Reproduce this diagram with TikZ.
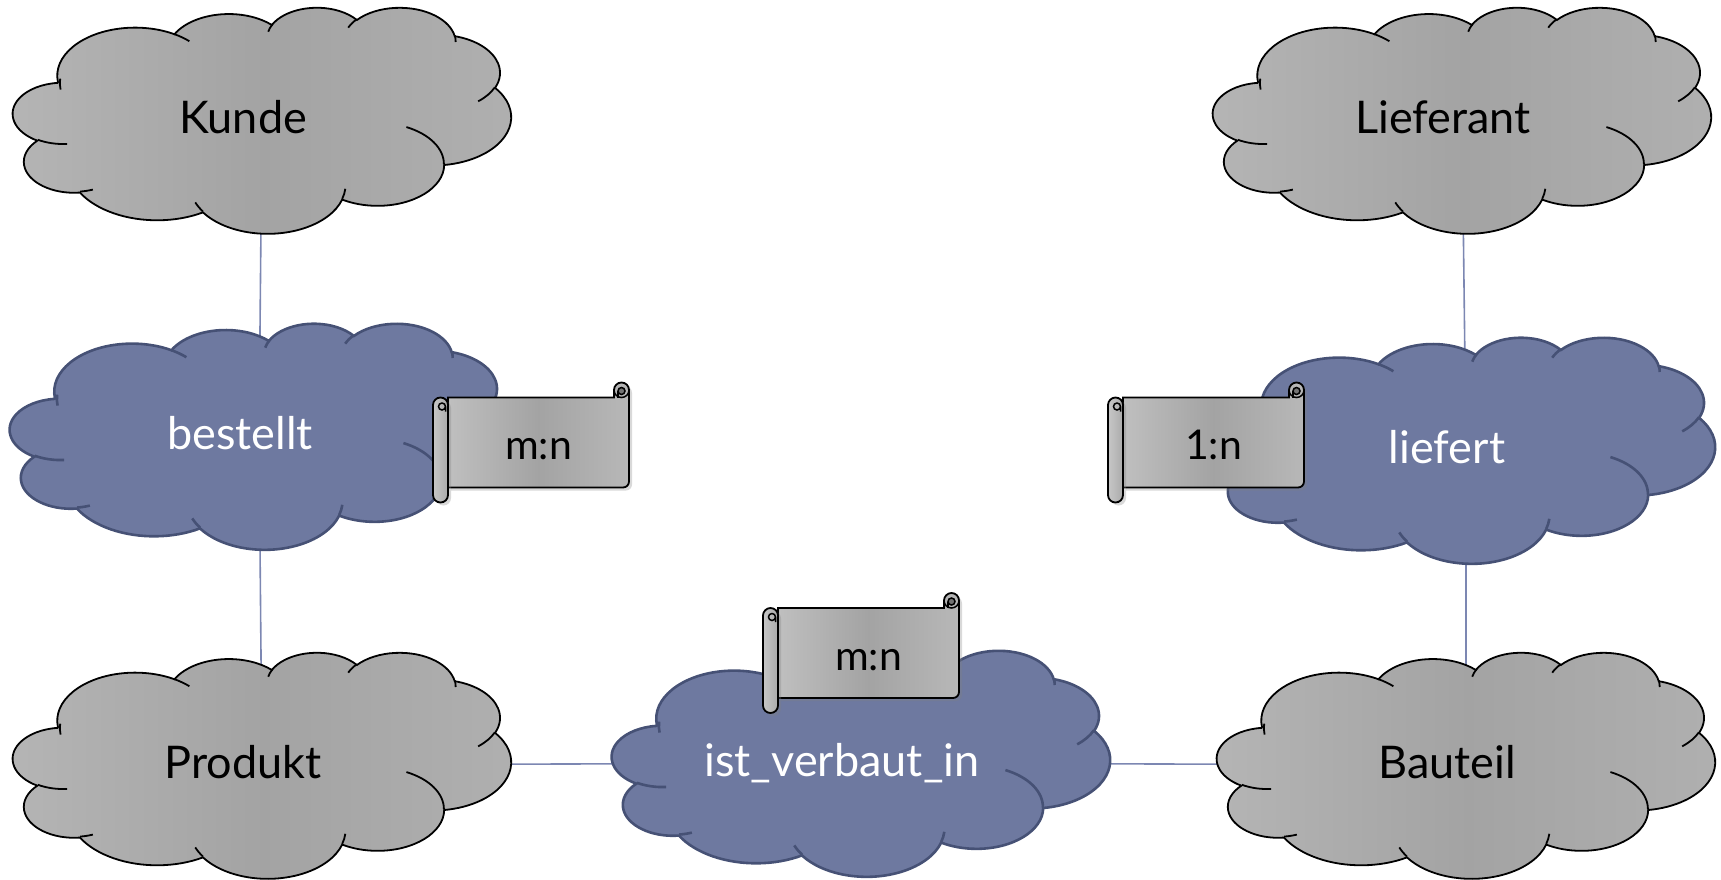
\documentclass[tikz,border=0pt]{standalone}
\usepackage{fontspec}
\setmainfont{Lato}
\usepackage{tikz}
\usetikzlibrary{backgrounds, shadows}
\pgfdeclarelayer{links}
\pgfsetlayers{links,background,main}
\definecolor{relblue}{RGB}{110,121,160}
\definecolor{relline}{RGB}{70,81,117}
\definecolor{linkblue}{RGB}{124,135,178}

% elliptic arc as given in the slide file (visual angles, y down)
\newcommand\ooarc[4]{%
  \pgfextra{%
    \pgfmathsetmacro\arcst{atan2(#1*sin(#3),#2*cos(#3))}%
    \pgfmathsetmacro\arcen{atan2(#1*sin(#3+#4),#2*cos(#3+#4))}%
    \pgfmathsetmacro\arcsw{Mod(\arcen-\arcst,360)}}%
  arc[start angle=\arcst, delta angle=\arcsw, x radius=#1pt, y radius=#2pt]}

% cloud outline in a 432 x 432 box
\newcommand\cloudpath[1]{%
  \begin{scope}[xscale=1.15278, yscale=-0.523148, shift={(-216pt,-216pt)}]
    \path[#1 fill] (39pt,143.7pt)
      \ooarc{67.53}{91.90}{-190.4875}{123.7805}
      \ooarc{53.33}{72.67}{-144.1024}{89.9452}
      \ooarc{43.65}{59.45}{-145.8079}{99.7230}
      \ooarc{48.57}{65.95}{-130.9861}{117.2417}
      \ooarc{53.33}{72.73}{-78.7089}{109.0269}
      \ooarc{67.75}{92.20}{-46.2673}{130.2690}
      \ooarc{57.85}{78.67}{0.6250}{114.0333}
      \ooarc{67.52}{92.15}{22.4516}{115.1726}
      \ooarc{77.20}{105.43}{66.2426}{75.7110}
      \ooarc{43.60}{59.18}{-274.9421}{146.7356}
      \ooarc{43.45}{59.45}{-246.8285}{152.5189} -- cycle;
    \draw[#1 line]
      (46.93pt,261.77pt) \ooarc{43.45}{59.45}{86.7420}{26.4295}
      (69.28pt,348.99pt) \ooarc{43.60}{59.18}{73.6105}{11.4475}
      (164.78pt,390.90pt) \ooarc{67.52}{92.15}{137.6242}{14.0811}
      (288.27pt,347.51pt) \ooarc{67.52}{92.15}{6.4533}{15.9984}
      (341.29pt,229.54pt) \ooarc{57.85}{78.67}{-70.2924}{70.9174}
      (417.98pt,153.54pt) \ooarc{53.33}{72.73}{30.3180}{27.7515}
      (383.24pt,54.26pt) \ooarc{48.57}{65.95}{-13.7443}{14.8589}
      (290.78pt,39.52pt) \ooarc{48.57}{65.95}{-149.1815}{18.1954}
      (221.41pt,47.20pt) \ooarc{43.65}{59.45}{-163.4943}{17.6864}
      (140.00pt,51.92pt) \ooarc{67.53}{91.90}{-66.7070}{12.3194}
      (41.27pt,157.89pt) \ooarc{67.53}{91.90}{-190.4875}{17.6440};
  \end{scope}}

% scroll in a 196 x 120 box
\newcommand\scrollpath{%
  \begin{scope}[shift={(-98,-60)}]
    \path[card body] (15,15) -- (181,15) -- (181,7.5)
      arc[start angle=180, end angle=0, radius=7.5pt] -- (196,99)
      arc[start angle=0, end angle=-90, radius=6pt] -- (15,105) -- cycle;
    \draw[card line] (181,7.5) arc[start angle=180, end angle=360, radius=7.5pt];
    \filldraw[card line, fill=black!55] (188.5,8.5) circle[radius=3.5pt];
    \draw[card line] (185,8.5) -- (185,15);
    \path[card tube] (0,22.5) arc[start angle=180, end angle=0, radius=7.5pt]
      -- (15,112.5) arc[start angle=0, end angle=-180, radius=7.5pt] -- cycle;
    \draw[card line] (9,24) circle[radius=3.5pt] (12.5,24) -- (12.5,29);
  \end{scope}}

\tikzset{
  pics/cloud/.style={code={\cloudpath{#1}}},
  pics/scroll/.style={code={\scrollpath}},
  entity/.style={inner sep=0pt, font=\fontsize{45pt}{54pt}\selectfont,
    text height=32pt, text depth=6pt, execute at begin node={\hspace*{-38pt}}},
  thing/.style={entity, text=black},
  relation/.style={entity, text=white},
  thing fill/.style={draw=black, line width=1.8pt,
    left color=black!29, right color=black!31, middle color=black!36},
  thing line/.style={draw=black, line width=1.8pt},
  relation fill/.style={draw=relline, line width=2.6pt, fill=relblue},
  relation line/.style={draw=relline, line width=2.6pt},
  card/.style={inner sep=0pt, font=\fontsize{41pt}{48pt}\selectfont,
    text height=34pt, text depth=0pt, execute at begin node={\hspace*{15pt}}},
  card body/.style={draw=black, line width=1.8pt,
    left color=black!25, right color=black!28, middle color=black!36,
    drop shadow={opacity=0.3, shadow xshift=3pt, shadow yshift=-3pt}},
  card tube/.style={draw=black, line width=1.8pt,
    left color=black!22, right color=black!33,
    drop shadow={opacity=0.3, shadow xshift=3pt, shadow yshift=-3pt}},
  card line/.style={draw=black, line width=1.5pt},
  link/.style={draw=linkblue, line width=1.6pt}
}

\begin{document}
\begin{tikzpicture}[x=1pt, y=-1pt]

\useasboundingbox (0,0) rectangle (1721,879);

% Entities
\node[thing] (kunde) at (262,120) {Kunde};
\node[thing] (lieferant) at (1462,120) {Lieferant};
\node[thing] (produkt) at (262,765) {Produkt};
\node[thing] (bauteil) at (1466,765) {Bauteil};

% Relationships
\node[relation] (bestellt) at (259,436) {bestellt};
\node[relation] (liefert) at (1466,450) {liefert};
\node[relation] (verbaut) at (861,763) {ist\_verbaut\_in};

% Cardinalities
\node[card] (bestelltcard) at (531,442.5) {m:n};
\node[card] (liefertcard) at (1206,442.5) {1:n};
\node[card] (verbautcard) at (861,653) {m:n};

% Shapes behind the texts
\begin{scope}[on background layer]
\pic at (kunde) {cloud=thing};
\pic at (lieferant) {cloud=thing};
\pic at (produkt) {cloud=thing};
\pic at (bauteil) {cloud=thing};
\pic at (bestellt) {cloud=relation};
\pic at (liefert) {cloud=relation};
\pic at (verbaut) {cloud=relation};
\pic at (bestelltcard) {scroll};
\pic at (liefertcard) {scroll};
\pic at (verbautcard) {scroll};
\end{scope}

% Links
\begin{pgfonlayer}{links}
\draw[link] (kunde.center) -- (bestellt.center);
\draw[link] (bestellt.center) -- (produkt.center);
\draw[link] (produkt.center) -- (verbaut.center);
\draw[link] (verbaut.center) -- (bauteil.center);
\draw[link] (lieferant.center) -- (liefert.center);
\draw[link] (liefert.center) -- (bauteil.center);
\end{pgfonlayer}

\end{tikzpicture}
\end{document}
